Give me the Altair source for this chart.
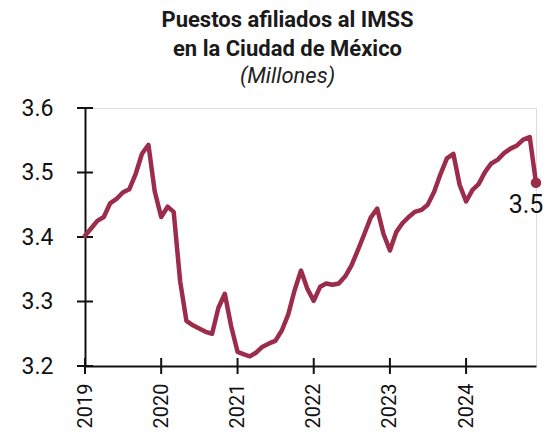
import altair as alt
import pandas as pd

# Monthly values (millions), Jan 2019 - Dec 2024
v2019 = [3.402, 3.414, 3.425, 3.431, 3.452, 3.459, 3.469, 3.474, 3.498, 3.529, 3.543, 3.471]
v2020 = [3.431, 3.447, 3.439, 3.331, 3.270, 3.263, 3.258, 3.253, 3.250, 3.290, 3.312, 3.262]
v2021 = [3.222, 3.218, 3.215, 3.221, 3.230, 3.235, 3.239, 3.255, 3.280, 3.317, 3.348, 3.320]
v2022 = [3.301, 3.323, 3.328, 3.326, 3.328, 3.339, 3.356, 3.380, 3.405, 3.430, 3.444, 3.405]
v2023 = [3.379, 3.408, 3.421, 3.431, 3.439, 3.442, 3.450, 3.470, 3.498, 3.522, 3.529, 3.481]
v2024 = [3.455, 3.473, 3.482, 3.501, 3.514, 3.520, 3.530, 3.537, 3.542, 3.551, 3.555, 3.484]

years = [2019, 2020, 2021, 2022, 2023, 2024]
y_ticks = [3.2, 3.3, 3.4, 3.5, 3.6]

values = v2019 + v2020 + v2021 + v2022 + v2023 + v2024
fechas = [f"{y}-{m:02d}-01" for y in years for m in range(1, 13)]
df = pd.DataFrame({"fecha": fechas, "valor": values})
last = df.tail(1)
ytick_df = pd.DataFrame({"v": y_ticks})
xtick_df = pd.DataFrame({"fecha": [f"{y}-01-01" for y in years]})

W, H = 451, 258
COLOR = "#9C2C4B"
FONT = "Roboto"

xscale = alt.Scale(domain=[alt.DateTime(year=2019, month=1, date=1),
                           alt.DateTime(year=2024, month=12, date=1)])
yscale = alt.Scale(domain=[3.2, 3.6], nice=False, zero=False)

x_enc = alt.X("fecha:T", scale=xscale, title=None,
              axis=alt.Axis(values=[alt.DateTime(year=y, month=1, date=1) for y in years],
                            format="%Y", labelAngle=-90, labelAlign="right",
                            labelBaseline="middle", labelPadding=17, ticks=False,
                            tickSize=0, grid=False, labelFontSize=20, labelFont=FONT,
                            labelColor="#111", domainColor="#111", domainWidth=2))
y_enc = alt.Y("valor:Q", scale=yscale, title=None,
              axis=alt.Axis(values=y_ticks, format=".1f", labelPadding=32, ticks=False,
                            tickSize=0, grid=False, labelFontSize=23, labelFont=FONT,
                            labelColor="#111", domainColor="#111", domainWidth=2))

line = alt.Chart(df).mark_line(color=COLOR, strokeWidth=4.5, strokeJoin="round",
                               strokeCap="round").encode(x=x_enc, y=y_enc)

dot = alt.Chart(last).mark_point(filled=True, color=COLOR, size=110, opacity=1).encode(
    x=alt.X("fecha:T", scale=xscale), y=alt.Y("valor:Q", scale=yscale))

label = alt.Chart(last).mark_text(align="center", baseline="middle", dx=-10, dy=22,
                                  fontSize=25, font=FONT, color="#111").encode(
    x=alt.X("fecha:T", scale=xscale), y=alt.Y("valor:Q", scale=yscale),
    text=alt.Text("valor:Q", format=".1f"))

yticks = alt.Chart(ytick_df).mark_rule(color="#111", strokeWidth=2).encode(
    y=alt.Y("v:Q", scale=yscale), x=alt.value(-8), x2=alt.value(8))

xticks = alt.Chart(xtick_df).mark_rule(color="#111", strokeWidth=2).encode(
    x=alt.X("fecha:T", scale=xscale), y=alt.value(H - 8), y2=alt.value(H + 8))

chart = alt.layer(yticks, xticks, line, dot, label).properties(
    width=W, height=H,
    title=alt.TitleParams(
        text=["Puestos afiliados al IMSS", "en la Ciudad de México"],
        subtitle="(Millones)",
        font=FONT, fontSize=22, fontWeight="bold", color="#1a1a1a", lineHeight=29,
        subtitleFont=FONT, subtitleFontSize=22, subtitleFontStyle="italic",
        subtitleColor="#222", subtitlePadding=5,
        anchor="middle", dx=-23, offset=9),
    autosize=alt.AutoSizeParams(type="none"),
    padding={"left": 77, "top": 100, "right": 8, "bottom": 66},
).configure_view(stroke=None).configure(background="white")

chart.save("out.html", embed_options={"renderer": "svg", "actions": False})
